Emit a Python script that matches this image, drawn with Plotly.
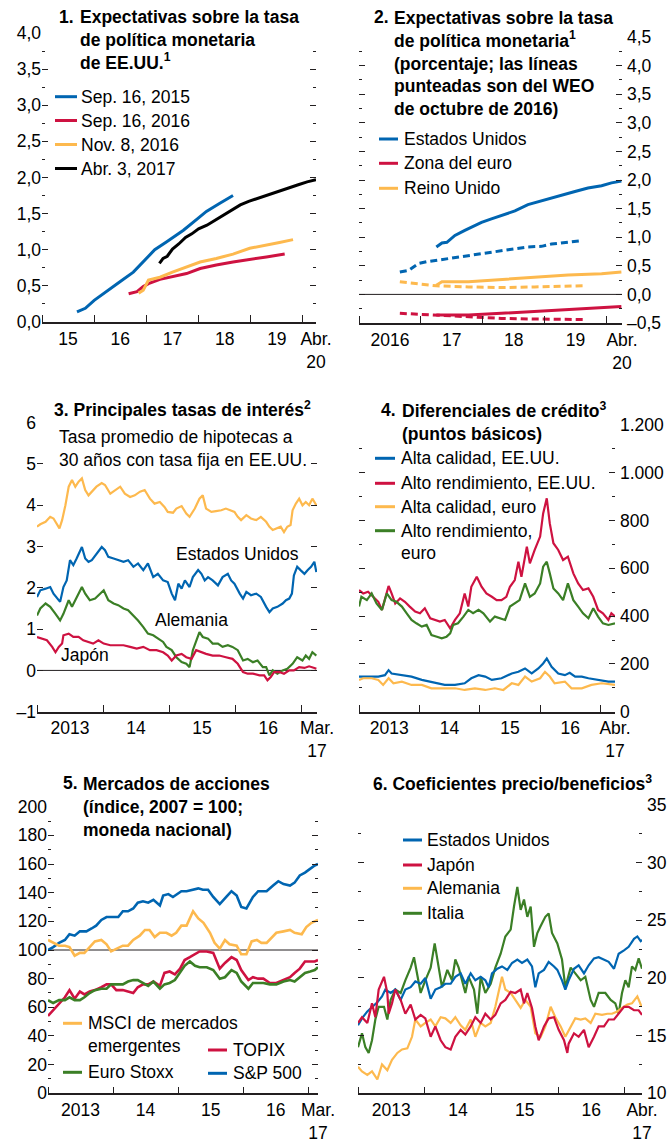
import plotly.graph_objects as go

# ---------------- colours / fonts ----------------
BLUE = "#0065B1"
RED = "#CE1241"
ORANGE = "#FDB94E"
GREEN = "#3B7F26"
BLACK = "#000000"
AXC = "#231F20"
FONT = "Liberation Sans, Arial, Helvetica, sans-serif"
FS = 17.5

# ---------------- Panel 1 data (decimal years, %) ----------------
P1_SEP2015_X = [2015.67, 2015.83, 2016.00, 2016.24, 2016.50, 2016.75, 2017.00, 2017.16, 2017.39, 2017.71, 2018.00, 2018.15, 2018.40, 2018.66]
P1_SEP2015_Y = [0.14, 0.19, 0.30, 0.42, 0.56, 0.69, 0.88, 1.00, 1.11, 1.27, 1.44, 1.53, 1.64, 1.75]
P1_SEP2016_X = [2016.66, 2016.82, 2016.94, 2017.04, 2017.26, 2017.50, 2017.77, 2018.03, 2018.34, 2018.66, 2018.98, 2019.30, 2019.65]
P1_SEP2016_Y = [0.39, 0.42, 0.49, 0.53, 0.59, 0.63, 0.67, 0.74, 0.79, 0.83, 0.86, 0.90, 0.94]
P1_NOV2016_X = [2016.85, 2016.94, 2017.04, 2017.26, 2017.50, 2017.77, 2018.03, 2018.34, 2018.66, 2018.98, 2019.30, 2019.55, 2019.81]
P1_NOV2016_Y = [0.40, 0.44, 0.58, 0.62, 0.69, 0.76, 0.83, 0.88, 0.94, 1.02, 1.06, 1.10, 1.14]
P1_ABR2017_X = [2017.25, 2017.32, 2017.40, 2017.50, 2017.62, 2017.75, 2017.87, 2018.00, 2018.16, 2018.32, 2018.48, 2018.64, 2018.80, 2018.96, 2019.12, 2019.27, 2019.43, 2019.59, 2019.75, 2019.91, 2020.08, 2020.25]
P1_ABR2017_Y = [0.81, 0.88, 0.91, 1.01, 1.08, 1.17, 1.22, 1.29, 1.34, 1.41, 1.48, 1.55, 1.62, 1.67, 1.71, 1.74, 1.79, 1.83, 1.87, 1.90, 1.94, 1.97]
P1_LEGEND = ["Sep. 16, 2015", "Sep. 16, 2016", "Nov. 8, 2016", "Abr. 3, 2017"]

# ---------------- Panel 2 data ----------------
P2_US_X = [2017.25, 2017.34, 2017.42, 2017.55, 2017.71, 2017.82, 2017.98, 2018.14, 2018.30, 2018.52, 2018.73, 2018.95, 2019.11, 2019.33, 2019.49, 2019.70, 2019.92, 2020.08, 2020.24]
P2_US_Y = [0.83, 0.90, 0.91, 1.03, 1.12, 1.18, 1.26, 1.32, 1.38, 1.46, 1.57, 1.64, 1.69, 1.75, 1.80, 1.86, 1.90, 1.95, 1.98]
P2_US_WEO_X = [2016.66, 2016.80, 2016.96, 2017.09, 2017.28, 2017.55, 2017.82, 2018.09, 2018.41, 2018.73, 2018.95, 2019.11, 2019.38, 2019.59]
P2_US_WEO_Y = [0.39, 0.42, 0.54, 0.57, 0.60, 0.64, 0.68, 0.73, 0.78, 0.83, 0.84, 0.88, 0.91, 0.94]
P2_UK_X = [2017.25, 2017.34, 2017.77, 2018.30, 2018.84, 2019.38, 2019.92, 2020.24]
P2_UK_Y = [0.16, 0.22, 0.22, 0.26, 0.31, 0.34, 0.36, 0.39]
P2_UK_WEO_X = [2016.66, 2016.96, 2017.25, 2017.77, 2018.30, 2018.84, 2019.38, 2019.65]
P2_UK_WEO_Y = [0.22, 0.18, 0.15, 0.13, 0.12, 0.13, 0.14, 0.15]
P2_EA_X = [2017.25, 2017.77, 2018.30, 2018.84, 2019.38, 2019.92, 2020.24]
P2_EA_Y = [-0.36, -0.36, -0.33, -0.30, -0.27, -0.24, -0.21]
P2_EA_WEO_X = [2016.66, 2017.23, 2017.77, 2018.30, 2018.84, 2019.38, 2019.65]
P2_EA_WEO_Y = [-0.33, -0.36, -0.40, -0.42, -0.43, -0.44, -0.44]
P2_LEGEND = ["Estados Unidos", "Zona del euro", "Reino Unido"]

# ---------------- Panel 3 data ----------------
P3_MORT_X = [2013.00, 2013.05, 2013.13, 2013.20, 2013.25, 2013.30, 2013.34, 2013.38, 2013.43, 2013.48, 2013.53, 2013.58, 2013.63, 2013.68, 2013.73, 2013.78, 2013.83, 2013.90, 2013.98, 2014.03, 2014.11, 2014.18, 2014.26, 2014.33, 2014.41, 2014.48, 2014.56, 2014.63, 2014.71, 2014.78, 2014.86, 2014.93, 2014.98, 2015.06, 2015.11, 2015.19, 2015.26, 2015.31, 2015.39, 2015.46, 2015.51, 2015.56, 2015.64, 2015.71, 2015.79, 2015.86, 2015.94, 2015.99, 2016.04, 2016.09, 2016.17, 2016.24, 2016.32, 2016.39, 2016.47, 2016.52, 2016.57, 2016.64, 2016.69, 2016.74, 2016.79, 2016.84, 2016.87, 2016.92, 2016.97, 2017.02, 2017.07, 2017.12, 2017.17, 2017.23]
P3_MORT_Y = [3.48, 3.54, 3.60, 3.72, 3.68, 3.56, 3.44, 3.64, 4.00, 4.45, 4.61, 4.45, 4.57, 4.65, 4.37, 4.24, 4.33, 4.45, 4.54, 4.49, 4.28, 4.37, 4.45, 4.28, 4.20, 4.24, 4.33, 4.37, 4.16, 4.04, 4.08, 3.96, 3.84, 3.82, 3.92, 3.98, 3.80, 3.72, 3.92, 4.16, 4.24, 3.92, 3.84, 3.86, 3.88, 3.92, 3.88, 3.84, 3.72, 3.64, 3.76, 3.68, 3.64, 3.72, 3.60, 3.48, 3.40, 3.44, 3.48, 3.35, 3.48, 3.52, 3.88, 4.04, 4.16, 4.00, 4.08, 4.00, 4.16, 4.00]
P3_US_X = [2013.00, 2013.05, 2013.13, 2013.20, 2013.25, 2013.33, 2013.35, 2013.40, 2013.45, 2013.50, 2013.55, 2013.60, 2013.68, 2013.73, 2013.78, 2013.83, 2013.90, 2013.98, 2014.03, 2014.08, 2014.16, 2014.23, 2014.31, 2014.38, 2014.46, 2014.53, 2014.61, 2014.68, 2014.76, 2014.83, 2014.91, 2014.98, 2015.04, 2015.09, 2015.14, 2015.19, 2015.24, 2015.31, 2015.36, 2015.44, 2015.49, 2015.54, 2015.59, 2015.66, 2015.74, 2015.81, 2015.89, 2015.94, 2015.99, 2016.07, 2016.12, 2016.17, 2016.24, 2016.32, 2016.39, 2016.47, 2016.52, 2016.57, 2016.64, 2016.72, 2016.77, 2016.82, 2016.86, 2016.89, 2016.94, 2016.99, 2017.05, 2017.10, 2017.15, 2017.20, 2017.23]
P3_US_Y = [1.78, 1.94, 1.98, 2.02, 1.86, 1.70, 1.66, 2.02, 2.18, 2.67, 2.55, 2.71, 2.99, 2.71, 2.63, 2.67, 2.83, 2.99, 2.91, 2.75, 2.71, 2.67, 2.63, 2.67, 2.51, 2.59, 2.43, 2.59, 2.26, 2.34, 2.18, 2.14, 1.86, 1.70, 2.10, 1.98, 2.18, 2.02, 2.26, 2.43, 2.34, 2.18, 2.26, 2.18, 2.06, 2.26, 2.34, 2.18, 2.10, 1.86, 1.74, 1.90, 1.82, 1.86, 1.78, 1.54, 1.41, 1.50, 1.54, 1.62, 1.70, 1.74, 1.86, 2.30, 2.51, 2.43, 2.34, 2.43, 2.51, 2.63, 2.38]
P3_DE_X = [2013.00, 2013.05, 2013.13, 2013.20, 2013.28, 2013.35, 2013.40, 2013.48, 2013.53, 2013.58, 2013.63, 2013.68, 2013.73, 2013.80, 2013.88, 2013.95, 2014.01, 2014.08, 2014.16, 2014.23, 2014.31, 2014.38, 2014.46, 2014.53, 2014.61, 2014.68, 2014.76, 2014.83, 2014.91, 2014.96, 2015.04, 2015.11, 2015.19, 2015.26, 2015.31, 2015.36, 2015.41, 2015.46, 2015.51, 2015.59, 2015.66, 2015.74, 2015.81, 2015.89, 2015.96, 2016.04, 2016.12, 2016.19, 2016.27, 2016.34, 2016.42, 2016.47, 2016.52, 2016.57, 2016.64, 2016.72, 2016.79, 2016.87, 2016.94, 2017.02, 2017.07, 2017.12, 2017.17, 2017.23]
P3_DE_Y = [1.33, 1.50, 1.62, 1.54, 1.37, 1.21, 1.37, 1.70, 1.54, 1.70, 1.82, 2.02, 1.86, 1.70, 1.74, 1.86, 1.94, 1.70, 1.62, 1.58, 1.50, 1.46, 1.33, 1.21, 1.05, 0.89, 0.85, 0.77, 0.69, 0.57, 0.49, 0.32, 0.20, 0.16, 0.08, 0.49, 0.73, 0.93, 0.81, 0.77, 0.65, 0.65, 0.57, 0.61, 0.57, 0.49, 0.24, 0.28, 0.20, 0.24, 0.08, 0.08, -0.12, 0.00, -0.08, 0.00, 0.04, 0.16, 0.32, 0.24, 0.36, 0.28, 0.44, 0.36]
P3_JP_X = [2013.00, 2013.08, 2013.15, 2013.23, 2013.28, 2013.33, 2013.38, 2013.40, 2013.48, 2013.55, 2013.63, 2013.70, 2013.78, 2013.85, 2013.93, 2014.01, 2014.11, 2014.21, 2014.31, 2014.41, 2014.51, 2014.61, 2014.71, 2014.81, 2014.91, 2014.98, 2015.04, 2015.11, 2015.19, 2015.26, 2015.34, 2015.41, 2015.49, 2015.56, 2015.66, 2015.76, 2015.86, 2015.96, 2016.04, 2016.12, 2016.19, 2016.27, 2016.37, 2016.44, 2016.49, 2016.54, 2016.59, 2016.67, 2016.74, 2016.82, 2016.89, 2016.97, 2017.05, 2017.12, 2017.20, 2017.23]
P3_JP_Y = [0.81, 0.77, 0.73, 0.57, 0.44, 0.57, 0.65, 0.85, 0.89, 0.81, 0.81, 0.73, 0.69, 0.65, 0.73, 0.65, 0.61, 0.61, 0.61, 0.57, 0.53, 0.57, 0.49, 0.49, 0.44, 0.36, 0.24, 0.36, 0.40, 0.32, 0.28, 0.49, 0.44, 0.40, 0.36, 0.36, 0.32, 0.28, 0.16, -0.04, -0.08, -0.08, -0.12, -0.12, -0.24, -0.16, -0.04, -0.04, -0.08, 0.00, 0.00, 0.08, 0.06, 0.10, 0.06, 0.04]

# ---------------- Panel 4 data (basis points) ----------------
P4_USHY_X = [2013.00, 2013.07, 2013.15, 2013.24, 2013.32, 2013.38, 2013.43, 2013.49, 2013.54, 2013.60, 2013.68, 2013.76, 2013.84, 2013.93, 2014.01, 2014.09, 2014.18, 2014.26, 2014.34, 2014.42, 2014.51, 2014.59, 2014.67, 2014.75, 2014.81, 2014.86, 2014.95, 2015.03, 2015.11, 2015.20, 2015.28, 2015.36, 2015.44, 2015.50, 2015.58, 2015.64, 2015.69, 2015.78, 2015.83, 2015.91, 2016.00, 2016.05, 2016.11, 2016.16, 2016.22, 2016.30, 2016.38, 2016.46, 2016.55, 2016.63, 2016.71, 2016.80, 2016.88, 2016.96, 2017.04, 2017.13, 2017.18, 2017.24]
P4_USHY_Y = [509, 495, 502, 481, 460, 426, 467, 526, 495, 453, 474, 460, 440, 419, 412, 433, 391, 384, 377, 384, 349, 384, 412, 495, 440, 523, 565, 523, 495, 481, 467, 467, 481, 523, 551, 628, 565, 691, 621, 677, 733, 830, 893, 788, 705, 677, 635, 649, 579, 537, 509, 516, 481, 426, 412, 384, 412, 398]
P4_EUHY_X = [2013.00, 2013.04, 2013.13, 2013.21, 2013.29, 2013.38, 2013.46, 2013.54, 2013.62, 2013.71, 2013.79, 2013.87, 2013.95, 2014.04, 2014.12, 2014.20, 2014.29, 2014.37, 2014.45, 2014.51, 2014.56, 2014.64, 2014.73, 2014.81, 2014.89, 2014.98, 2015.06, 2015.17, 2015.25, 2015.33, 2015.42, 2015.50, 2015.58, 2015.66, 2015.75, 2015.83, 2015.91, 2016.00, 2016.05, 2016.11, 2016.16, 2016.22, 2016.30, 2016.38, 2016.46, 2016.55, 2016.63, 2016.71, 2016.80, 2016.88, 2016.96, 2017.04, 2017.13, 2017.24]
P4_EUHY_Y = [440, 481, 467, 495, 453, 426, 495, 467, 460, 440, 412, 384, 370, 356, 363, 321, 314, 307, 314, 328, 363, 370, 398, 426, 412, 426, 412, 377, 398, 391, 384, 440, 453, 467, 537, 481, 495, 537, 607, 628, 579, 516, 495, 467, 537, 467, 440, 412, 391, 433, 398, 370, 363, 370]
P4_USIG_X = [2013.00, 2013.15, 2013.32, 2013.43, 2013.49, 2013.54, 2013.71, 2013.87, 2014.04, 2014.26, 2014.42, 2014.59, 2014.75, 2014.86, 2014.98, 2015.09, 2015.20, 2015.36, 2015.53, 2015.64, 2015.75, 2015.86, 2015.97, 2016.05, 2016.11, 2016.19, 2016.30, 2016.41, 2016.49, 2016.58, 2016.69, 2016.80, 2016.96, 2017.13, 2017.24]
P4_USIG_Y = [147, 147, 147, 153, 174, 160, 153, 147, 133, 119, 112, 112, 119, 140, 153, 147, 133, 140, 160, 167, 181, 160, 181, 202, 223, 188, 160, 153, 163, 147, 147, 140, 133, 126, 126]
P4_EUIG_X = [2013.00, 2013.07, 2013.21, 2013.32, 2013.40, 2013.49, 2013.57, 2013.71, 2013.87, 2014.04, 2014.20, 2014.37, 2014.59, 2014.75, 2014.92, 2015.09, 2015.25, 2015.39, 2015.53, 2015.64, 2015.75, 2015.86, 2016.00, 2016.08, 2016.16, 2016.24, 2016.41, 2016.52, 2016.69, 2016.85, 2017.02, 2017.24]
P4_EUIG_Y = [133, 140, 140, 133, 112, 140, 119, 126, 112, 112, 98, 98, 98, 91, 98, 91, 98, 91, 119, 112, 147, 126, 140, 167, 147, 119, 126, 98, 98, 112, 119, 112]
P4_LEGEND = ["Alta calidad, EE.UU.", "Alto rendimiento, EE.UU.", "Alta calidad, euro", "Alto rendimiento,", "euro"]

# ---------------- Panel 5 data (index, 2007 = 100) ----------------
P5_SP_X = [2013.00, 2013.08, 2013.17, 2013.26, 2013.33, 2013.41, 2013.49, 2013.59, 2013.67, 2013.74, 2013.82, 2013.90, 2014.00, 2014.08, 2014.15, 2014.23, 2014.31, 2014.38, 2014.46, 2014.54, 2014.62, 2014.72, 2014.77, 2014.85, 2014.92, 2015.05, 2015.13, 2015.21, 2015.31, 2015.38, 2015.46, 2015.54, 2015.64, 2015.74, 2015.82, 2015.90, 2015.97, 2016.05, 2016.15, 2016.23, 2016.31, 2016.36, 2016.46, 2016.54, 2016.62, 2016.72, 2016.79, 2016.87, 2016.95, 2017.03, 2017.10, 2017.15]
P5_SP_Y = [100, 102, 105, 107, 111, 110, 113, 113, 115, 117, 121, 123, 123, 123, 127, 127, 129, 133, 134, 133, 135, 131, 138, 139, 137, 141, 141, 142, 143, 142, 142, 137, 132, 137, 141, 138, 130, 129, 137, 141, 141, 141, 145, 148, 146, 145, 147, 152, 154, 157, 159, 160]
P5_EM_X = [2013.00, 2013.08, 2013.17, 2013.26, 2013.33, 2013.41, 2013.49, 2013.56, 2013.64, 2013.72, 2013.82, 2013.90, 2013.97, 2014.05, 2014.15, 2014.23, 2014.31, 2014.41, 2014.49, 2014.56, 2014.64, 2014.72, 2014.82, 2014.90, 2014.97, 2015.05, 2015.13, 2015.23, 2015.31, 2015.39, 2015.49, 2015.56, 2015.64, 2015.72, 2015.79, 2015.90, 2015.97, 2016.05, 2016.13, 2016.21, 2016.28, 2016.36, 2016.44, 2016.51, 2016.62, 2016.72, 2016.79, 2016.90, 2016.97, 2017.05, 2017.15]
P5_EM_Y = [107, 105, 103, 103, 102, 96, 98, 98, 102, 106, 107, 104, 99, 101, 103, 103, 107, 110, 114, 114, 109, 112, 112, 110, 112, 117, 117, 127, 122, 119, 112, 105, 101, 107, 104, 103, 97, 97, 106, 107, 105, 105, 109, 112, 113, 114, 112, 111, 116, 119, 121]
P5_MONTH_X = [2013.00, 2013.08, 2013.17, 2013.26, 2013.33, 2013.41, 2013.49, 2013.56, 2013.64, 2013.72, 2013.82, 2013.90, 2013.97, 2014.05, 2014.15, 2014.23, 2014.31, 2014.38, 2014.46, 2014.54, 2014.62, 2014.72, 2014.79, 2014.87, 2014.95, 2015.03, 2015.10, 2015.18, 2015.26, 2015.33, 2015.44, 2015.54, 2015.64, 2015.72, 2015.82, 2015.90, 2015.97, 2016.08, 2016.15, 2016.23, 2016.31, 2016.41, 2016.51, 2016.62, 2016.72, 2016.79, 2016.87, 2016.95, 2017.03, 2017.10, 2017.15]
P5_TOPIX_Y = [54, 58, 63, 67, 72, 66, 71, 69, 71, 72, 74, 76, 76, 72, 72, 71, 70, 74, 76, 76, 78, 75, 84, 85, 83, 87, 93, 95, 97, 99, 99, 98, 87, 91, 95, 93, 86, 79, 81, 80, 80, 77, 77, 79, 81, 84, 87, 92, 92, 92, 93]
P5_STOXX_Y = [65, 63, 65, 65, 67, 65, 65, 67, 70, 72, 73, 73, 76, 76, 76, 78, 79, 79, 77, 75, 78, 73, 76, 77, 79, 84, 89, 92, 89, 88, 88, 86, 80, 81, 86, 84, 78, 73, 77, 77, 77, 76, 76, 78, 79, 78, 81, 84, 85, 86, 88]

# ---------------- Panel 6 data (P/E ratios) ----------------
P6_US_X = [2013.00, 2013.06, 2013.14, 2013.21, 2013.29, 2013.36, 2013.41, 2013.49, 2013.56, 2013.64, 2013.71, 2013.79, 2013.86, 2013.94, 2014.01, 2014.09, 2014.16, 2014.24, 2014.31, 2014.39, 2014.46, 2014.54, 2014.61, 2014.69, 2014.76, 2014.84, 2014.91, 2014.96, 2015.01, 2015.09, 2015.16, 2015.24, 2015.31, 2015.39, 2015.46, 2015.54, 2015.61, 2015.66, 2015.71, 2015.79, 2015.86, 2015.94, 2015.99, 2016.06, 2016.11, 2016.16, 2016.24, 2016.31, 2016.39, 2016.46, 2016.54, 2016.61, 2016.69, 2016.76, 2016.84, 2016.91, 2016.99, 2017.06, 2017.14, 2017.19, 2017.24, 2017.26]
P6_US_Y = [15.9, 16.5, 17.1, 17.5, 17.9, 18.4, 19.0, 18.7, 19.0, 18.1, 19.0, 19.2, 19.7, 19.5, 20.0, 18.2, 19.0, 19.2, 19.5, 19.5, 20.1, 20.4, 19.5, 20.4, 19.8, 20.1, 19.8, 19.2, 20.4, 20.8, 21.0, 20.7, 21.3, 21.6, 21.3, 21.6, 21.0, 19.2, 20.4, 20.7, 21.4, 21.0, 20.7, 19.8, 19.0, 19.8, 20.8, 21.1, 20.4, 21.1, 21.7, 21.8, 21.6, 21.4, 20.8, 22.1, 22.4, 22.7, 23.4, 23.6, 23.2, 23.3]
P6_JP_X = [2013.00, 2013.06, 2013.14, 2013.21, 2013.26, 2013.31, 2013.39, 2013.44, 2013.46, 2013.51, 2013.56, 2013.64, 2013.71, 2013.79, 2013.86, 2013.94, 2014.01, 2014.09, 2014.16, 2014.24, 2014.31, 2014.39, 2014.46, 2014.54, 2014.61, 2014.69, 2014.76, 2014.84, 2014.91, 2014.99, 2015.06, 2015.14, 2015.21, 2015.29, 2015.36, 2015.44, 2015.49, 2015.54, 2015.61, 2015.66, 2015.71, 2015.79, 2015.86, 2015.94, 2016.01, 2016.09, 2016.14, 2016.16, 2016.24, 2016.31, 2016.39, 2016.46, 2016.54, 2016.61, 2016.69, 2016.76, 2016.84, 2016.91, 2016.99, 2017.06, 2017.14, 2017.21, 2017.26]
P6_JP_Y = [16.1, 16.6, 16.1, 17.8, 16.6, 19.0, 20.1, 18.7, 16.9, 17.8, 19.0, 18.1, 16.9, 17.7, 16.4, 16.8, 16.5, 14.9, 15.8, 14.6, 14.0, 13.8, 14.9, 15.5, 15.1, 15.8, 16.6, 16.1, 16.9, 16.4, 16.8, 17.8, 18.1, 18.8, 18.7, 19.0, 17.8, 18.7, 17.4, 15.8, 14.6, 15.8, 16.5, 16.6, 15.5, 14.6, 13.5, 14.3, 15.2, 14.9, 15.5, 14.0, 14.9, 15.8, 15.8, 16.4, 16.4, 16.9, 17.5, 17.5, 17.2, 17.2, 16.8]
P6_DE_X = [2013.00, 2013.06, 2013.14, 2013.21, 2013.29, 2013.36, 2013.44, 2013.51, 2013.59, 2013.66, 2013.74, 2013.81, 2013.86, 2013.94, 2014.01, 2014.09, 2014.16, 2014.24, 2014.31, 2014.39, 2014.46, 2014.54, 2014.61, 2014.69, 2014.76, 2014.84, 2014.91, 2014.99, 2015.06, 2015.11, 2015.16, 2015.21, 2015.29, 2015.36, 2015.44, 2015.51, 2015.59, 2015.66, 2015.74, 2015.81, 2015.89, 2015.96, 2016.04, 2016.11, 2016.19, 2016.26, 2016.34, 2016.41, 2016.49, 2016.56, 2016.66, 2016.74, 2016.81, 2016.89, 2016.96, 2017.04, 2017.11, 2017.19, 2017.24, 2017.26]
P6_DE_Y = [12.3, 11.9, 11.6, 11.9, 11.2, 12.5, 12.0, 12.9, 13.5, 13.8, 13.9, 14.9, 16.4, 15.8, 16.1, 16.4, 15.8, 16.6, 16.5, 16.1, 16.6, 15.9, 15.5, 16.4, 14.9, 16.1, 15.8, 16.1, 17.5, 18.7, 20.1, 19.0, 18.7, 18.1, 17.4, 18.1, 17.5, 15.2, 14.9, 15.8, 17.5, 16.6, 15.8, 14.9, 15.8, 16.5, 16.4, 16.5, 16.1, 16.9, 16.8, 16.9, 16.9, 17.1, 17.4, 17.7, 17.8, 18.4, 17.7, 17.5]
P6_IT_X = [2013.00, 2013.06, 2013.11, 2013.16, 2013.21, 2013.26, 2013.31, 2013.39, 2013.44, 2013.49, 2013.56, 2013.64, 2013.71, 2013.79, 2013.84, 2013.89, 2013.94, 2014.01, 2014.09, 2014.15, 2014.21, 2014.26, 2014.34, 2014.41, 2014.46, 2014.51, 2014.56, 2014.61, 2014.66, 2014.74, 2014.79, 2014.84, 2014.91, 2014.99, 2015.06, 2015.14, 2015.21, 2015.29, 2015.34, 2015.39, 2015.44, 2015.49, 2015.54, 2015.59, 2015.64, 2015.69, 2015.74, 2015.81, 2015.86, 2015.91, 2015.99, 2016.06, 2016.11, 2016.19, 2016.26, 2016.34, 2016.41, 2016.49, 2016.54, 2016.61, 2016.71, 2016.79, 2016.86, 2016.91, 2016.96, 2017.01, 2017.06, 2017.11, 2017.16, 2017.21, 2017.26]
P6_IT_Y = [14.0, 15.2, 14.0, 13.5, 14.6, 16.4, 17.5, 17.5, 16.4, 18.1, 19.0, 18.7, 19.8, 20.9, 21.8, 20.1, 18.7, 19.8, 20.9, 23.0, 20.9, 19.2, 20.7, 19.8, 21.6, 20.9, 19.8, 18.7, 20.1, 19.0, 16.9, 20.1, 18.7, 19.5, 20.9, 22.1, 23.6, 24.2, 26.2, 27.9, 25.9, 26.8, 25.3, 26.2, 22.7, 23.9, 24.5, 25.3, 25.6, 23.9, 23.0, 21.6, 19.2, 20.9, 20.4, 19.8, 20.1, 18.1, 17.5, 18.7, 18.7, 18.1, 17.8, 16.9, 18.7, 19.8, 19.2, 21.0, 20.7, 21.7, 20.8]
P6_LEGEND = ["Estados Unidos", "Japón", "Alemania", "Italia"]

# ---------------- axis tick labels ----------------
P1_YEARS, P1_XLAB, P1_END = [2015, 2016, 2017, 2018, 2019], ["15", "16", "17", "18", "19"], "Abr.<br>20"
P2_YEARS, P2_XLAB, P2_END = [2016, 2017, 2018, 2019], ["2016", "17", "18", "19"], "Abr.<br>20"
P36_YEARS, P36_XLAB = [2013, 2014, 2015, 2016], ["2013", "14", "15", "16"]
P1_YT = [0, 0.5, 1, 1.5, 2, 2.5, 3, 3.5, 4]
P1_YL = ["0,0", "0,5", "1,0", "1,5", "2,0", "2,5", "3,0", "3,5", "4,0"]
P2_YT = [-0.5, 0, 0.5, 1, 1.5, 2, 2.5, 3, 3.5, 4, 4.5]
P2_YL = ["\u20130,5", "0,0", "0,5", "1,0", "1,5", "2,0", "2,5", "3,0", "3,5", "4,0", "4,5"]
P3_YT = [-1, 0, 1, 2, 3, 4, 5, 6]
P3_YL = ["\u20131", "0", "1", "2", "3", "4", "5", "6"]
P4_YT = [0, 200, 400, 600, 800, 1000, 1200]
P4_YL = ["0", "200", "400", "600", "800", "1.000", "1.200"]
P5_YT = [0, 20, 40, 60, 80, 100, 120, 140, 160, 180, 200]
P5_YL = [str(v) for v in P5_YT]
P6_YT = [10, 15, 20, 25, 30, 35]
P6_YL = [str(v) for v in P6_YT]

W, H = 669, 1145


def fx(p):
    return p / W


def fy(p):
    return 1 - p / H


# panel geometry in pixels: x0, x1, ytop, ybottom
GEOM = {
    1: (42, 316, 33, 322),
    2: (359, 622, 37, 323),
    3: (37, 317, 422.7, 711.7),
    4: (359, 615, 425, 711.7),
    5: (48, 318, 806.7, 1093.3),
    6: (358, 642, 805, 1093.3),
}

fig = go.Figure()


def sfx(n):
    return "" if n == 1 else str(n)


def add_line(n, xs, ys, color, width, dash="solid"):
    fig.add_trace(go.Scatter(
        x=xs, y=ys, mode="lines",
        line=dict(color=color, width=width, dash=dash),
        xaxis="x" + sfx(n), yaxis="y" + sfx(n),
        showlegend=False, hoverinfo="skip"))


# Panel 1
add_line(1, P1_SEP2015_X, P1_SEP2015_Y, BLUE, 3)
add_line(1, P1_SEP2016_X, P1_SEP2016_Y, RED, 3)
add_line(1, P1_NOV2016_X, P1_NOV2016_Y, ORANGE, 3)
add_line(1, P1_ABR2017_X, P1_ABR2017_Y, BLACK, 3)
# Panel 2
DASH = "7px,4px"
add_line(2, P2_US_WEO_X, P2_US_WEO_Y, BLUE, 3, DASH)
add_line(2, P2_UK_WEO_X, P2_UK_WEO_Y, ORANGE, 3, DASH)
add_line(2, P2_EA_WEO_X, P2_EA_WEO_Y, RED, 3, DASH)
add_line(2, P2_US_X, P2_US_Y, BLUE, 3)
add_line(2, P2_UK_X, P2_UK_Y, ORANGE, 3)
add_line(2, P2_EA_X, P2_EA_Y, RED, 3)
# Panel 3
add_line(3, P3_MORT_X, P3_MORT_Y, ORANGE, 2.2)
add_line(3, P3_US_X, P3_US_Y, BLUE, 2.2)
add_line(3, P3_DE_X, P3_DE_Y, GREEN, 2.2)
add_line(3, P3_JP_X, P3_JP_Y, RED, 2.2)
# Panel 4
add_line(4, P4_USHY_X, P4_USHY_Y, RED, 2.2)
add_line(4, P4_EUHY_X, P4_EUHY_Y, GREEN, 2.2)
add_line(4, P4_USIG_X, P4_USIG_Y, BLUE, 2.2)
add_line(4, P4_EUIG_X, P4_EUIG_Y, ORANGE, 2.2)
# Panel 5
add_line(5, P5_SP_X, P5_SP_Y, BLUE, 2.6)
add_line(5, P5_EM_X, P5_EM_Y, ORANGE, 2.6)
add_line(5, P5_MONTH_X, P5_TOPIX_Y, RED, 2.6)
add_line(5, P5_MONTH_X, P5_STOXX_Y, GREEN, 2.6)
# Panel 6
add_line(6, P6_IT_X, P6_IT_Y, GREEN, 2.2)
add_line(6, P6_US_X, P6_US_Y, BLUE, 2.2)
add_line(6, P6_DE_X, P6_DE_Y, ORANGE, 2.2)
add_line(6, P6_JP_X, P6_JP_Y, RED, 2.2)

tickfont = dict(family=FONT, size=FS, color="black")


def set_axes(n, xrange, years, xlabels, endlabel, yrange, yt, yl, yminor, side):
    x0, x1, yt_px, yb_px = GEOM[n]
    s = sfx(n)
    bounds = [y for y in range(int(xrange[0]), int(xrange[1]) + 1) if xrange[0] <= y <= xrange[1]]
    fig.layout["xaxis" + s] = dict(
        domain=[fx(x0), fx(x1)], range=xrange, anchor="y" + s, automargin=False,
        tickmode="array", tickvals=[y + 0.5 for y in years] + [xrange[1]],
        ticktext=xlabels + [endlabel], ticks="", tickangle=0,
        showline=True, linecolor=AXC, linewidth=1.5,
        showgrid=False, zeroline=False, tickfont=tickfont, fixedrange=True,
        minor=dict(tickmode="array", tickvals=bounds, ticks="inside",
                   ticklen=7, tickwidth=1.3, tickcolor=AXC, showgrid=False))
    fig.layout["yaxis" + s] = dict(
        domain=[fy(yb_px), fy(yt_px)], range=yrange, anchor="x" + s, side=side,
        automargin=False, ticklabelstandoff=(4 if side == "right" else 0),
        tickmode="array", tickvals=yt, ticktext=yl, ticks="inside", ticklen=6,
        tickwidth=1, tickcolor=AXC, mirror="ticks", showline=False,
        showgrid=False, zeroline=False, tickfont=tickfont, fixedrange=True,
        minor=dict(tickmode="array", tickvals=yminor, ticks="inside",
                   ticklen=3, tickwidth=1, tickcolor=AXC, showgrid=False))


set_axes(1, [2015, 2020.25], P1_YEARS, P1_XLAB, P1_END, [0, 4], P1_YT, P1_YL,
         [0.25 + 0.5 * i for i in range(8)], "left")
set_axes(2, [2016, 2020.25], P2_YEARS, P2_XLAB, P2_END, [-0.5, 4.5], P2_YT, P2_YL,
         [-0.25 + 0.5 * i for i in range(10)], "right")
set_axes(3, [2013, 2017.24], P36_YEARS, P36_XLAB, "Mar.<br>17", [-1, 6], P3_YT, P3_YL,
         [], "left")
set_axes(4, [2013, 2017.24], P36_YEARS, P36_XLAB, "Abr.<br>17", [0, 1200], P4_YT, P4_YL,
         [100 + 200 * i for i in range(6)], "right")
set_axes(5, [2013, 2017.15], P36_YEARS, P36_XLAB, "Mar.<br>17", [0, 200], P5_YT, P5_YL,
         [10 + 20 * i for i in range(10)], "left")
set_axes(6, [2013, 2017.26], P36_YEARS, P36_XLAB, "Abr.<br>17", [10, 35], P6_YT, P6_YL,
         [12.5 + 5 * i for i in range(5)], "right")

# reference lines (0 and 100)
shapes = []
for n, yv in [(2, 0), (3, 0), (5, 100)]:
    shapes.append(dict(type="line", xref="x" + sfx(n) + " domain", x0=0, x1=1,
                       yref="y" + sfx(n), y0=yv, y1=yv,
                       line=dict(color=AXC, width=1), layer="below"))

annotations = []


def text(xp, yp, t, bold=False, size=FS):
    annotations.append(dict(
        x=fx(xp), y=fy(yp), xref="paper", yref="paper", xanchor="left", yanchor="middle",
        text=("<b>" + t + "</b>") if bold else t, showarrow=False, align="left",
        font=dict(family=FONT, size=size, color="black"), borderpad=0))


def block(xp, yfirst, ylast, lines, bold=False):
    text(xp, (yfirst + ylast) / 2, "<br>".join(lines), bold)


def swatch(x0, x1, yp, color):
    shapes.append(dict(type="line", xref="paper", yref="paper", x0=fx(x0), x1=fx(x1),
                       y0=fy(yp), y1=fy(yp), line=dict(color=color, width=3)))


# Titles
text(58, 17, "1.", True)
block(79, 17, 63.5, ["Expectativas sobre la tasa", "de política monetaria", "de EE.UU.<sup>1</sup>"], True)
text(373, 17, "2.", True)
block(393, 17, 110, ["Expectativas sobre la tasa", "de política monetaria<sup>1</sup>",
                     "(porcentaje; las líneas", "punteadas son del WEO", "de octubre de 2016)"], True)
text(53, 409, "3. Principales tasas de interés<sup>2</sup>", True)
text(380, 409.5, "4.", True)
block(401, 409.5, 432.5, ["Diferenciales de crédito<sup>3</sup>", "(puntos básicos)"], True)
text(62, 782.5, "5.", True)
block(82, 782.5, 830.5, ["Mercados de acciones", "(índice, 2007 = 100;", "moneda nacional)"], True)
text(372, 782.5, "6. Coeficientes precio/beneficios<sup>3</sup>", True)

# Panel 1 legend
for lab, col, yp in zip(P1_LEGEND, [BLUE, RED, ORANGE, BLACK], [96.7, 120.5, 144.5, 168.5]):
    swatch(55, 77, yp, col)
    text(80, yp, lab)
# Panel 2 legend
for lab, col, yp in zip(P2_LEGEND, [BLUE, RED, ORANGE], [139, 163.3, 188.3]):
    swatch(379, 398, yp, col)
    text(403, yp, lab)
# Panel 3 labels
block(58, 437.3, 460.7, ["Tasa promedio de hipotecas a", "30 años con tasa fija en EE.UU."])
text(175, 554, "Estados Unidos")
text(154, 620, "Alemania")
text(60, 655, "Japón")
# Panel 4 legend
for lab, col, yp in zip(P4_LEGEND, [BLUE, RED, ORANGE, GREEN, None], [458.3, 483.3, 506.7, 530.7, 553.3]):
    if col:
        swatch(375, 395, yp, col)
    text(400, yp, lab)
# Panel 5 legend
swatch(63, 82, 1023.3, ORANGE)
block(87, 1023.3, 1045, ["MSCI de mercados", "emergentes"])
swatch(63, 82, 1072.3, GREEN)
text(87, 1072.3, "Euro Stoxx")
swatch(208, 227, 1050, RED)
text(232, 1050, "TOPIX")
swatch(208, 227, 1073.3, BLUE)
text(232, 1073.3, "S&P 500")
# Panel 6 legend
for lab, col, yp in zip(P6_LEGEND, [BLUE, RED, ORANGE, GREEN], [840, 865, 888.3, 913.3]):
    swatch(403, 422, yp, col)
    text(426, yp, lab)

fig.update_layout(
    width=W, height=H, autosize=False,
    margin=dict(l=0, r=0, t=0, b=0, pad=0),
    paper_bgcolor="white", plot_bgcolor="white",
    font=dict(family=FONT, size=FS, color="black"),
    showlegend=False, hovermode=False,
    shapes=shapes, annotations=annotations,
)

# remove the browser's default 8px page margin so the figure sits at the top-left corner
fig.write_html("out.html", config={"displayModeBar": False},
               post_script="document.body.style.margin='0px';")
